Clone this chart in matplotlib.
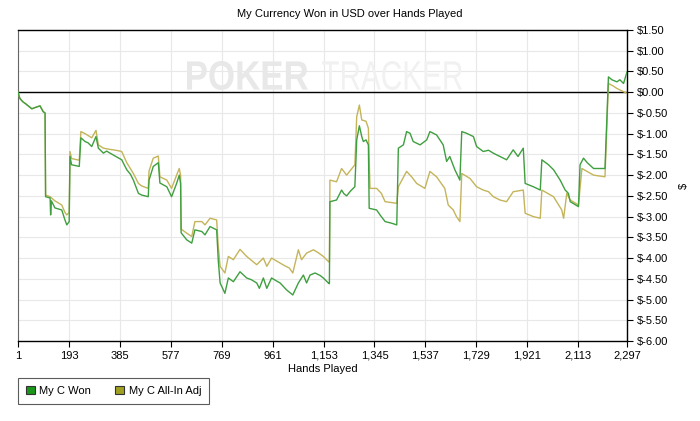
import matplotlib
matplotlib.use("Agg")
import matplotlib.pyplot as plt
from matplotlib.patches import Patch, PathPatch
from matplotlib.textpath import TextPath
from matplotlib.font_manager import FontProperties
from matplotlib.transforms import Affine2D, IdentityTransform
from matplotlib.ticker import FuncFormatter

plt.rcParams["font.family"] = ["Liberation Sans", "DejaVu Sans"]

# --- data ---
won_hands = [1, 8, 19, 30, 53, 70, 84, 96, 103, 105, 122, 124, 127, 140, 166, 178, 185, 194, 197,
             203, 232, 238, 254, 265, 279, 295, 304, 323, 335, 348, 370, 392, 411, 425, 436, 455,
             467, 492, 495, 511, 530, 536, 562, 580, 599, 609, 614, 616, 637, 656, 668, 694, 706,
             725, 750, 756, 763, 781, 794, 813, 838, 863, 880, 901, 911, 926, 939, 957, 975, 989,
             1014, 1037, 1058, 1077, 1089, 1102, 1121, 1140, 1152, 1171, 1175, 1177, 1190, 1202,
             1221, 1230, 1240, 1255, 1271, 1278, 1288, 1297, 1303, 1313, 1322, 1325, 1340, 1353,
             1366, 1385, 1410, 1429, 1435, 1454, 1466, 1479, 1491, 1517, 1542, 1554, 1579, 1604,
             1617, 1629, 1648, 1667, 1674, 1692, 1718, 1730, 1755, 1775, 1793, 1818, 1843, 1868,
             1886, 1906, 1913, 1944, 1970, 1976, 2001, 2020, 2045, 2064, 2076, 2083, 2114, 2120,
             2133, 2147, 2171, 2214, 2227, 2240, 2259, 2270, 2284, 2297]
won_values = [0.00, -0.15, -0.23, -0.28, -0.40, -0.36, -0.33, -0.47, -0.50, -2.52, -2.55, -2.96,
              -2.62, -2.79, -2.84, -3.08, -3.20, -3.12, -1.55, -1.75, -1.79, -1.10, -1.19, -1.22,
              -1.31, -1.07, -1.35, -1.47, -1.42, -1.47, -1.55, -1.63, -1.87, -1.98, -2.12, -2.44,
              -2.48, -2.52, -2.12, -1.79, -1.70, -2.19, -2.28, -2.52, -2.20, -2.00, -2.20, -3.39,
              -3.56, -3.64, -3.32, -3.36, -3.44, -3.24, -3.32, -4.05, -4.60, -4.85, -4.48, -4.57,
              -4.33, -4.48, -4.52, -4.60, -4.73, -4.48, -4.73, -4.48, -4.55, -4.60, -4.77, -4.89,
              -4.60, -4.41, -4.60, -4.41, -4.36, -4.42, -4.48, -4.60, -4.62, -2.64, -2.62, -2.60,
              -2.36, -2.45, -2.50, -2.38, -2.28, -1.15, -0.81, -1.07, -1.19, -1.15, -1.27, -2.80,
              -2.82, -2.84, -2.96, -3.12, -3.16, -3.20, -1.35, -1.27, -0.95, -0.99, -1.19, -1.27,
              -1.15, -0.95, -1.03, -1.27, -1.67, -1.55, -1.87, -2.12, -0.95, -0.99, -1.07, -1.31,
              -1.43, -1.40, -1.47, -1.55, -1.63, -1.39, -1.55, -1.35, -2.20, -2.28, -2.36, -1.63,
              -1.75, -1.87, -2.12, -2.36, -2.44, -2.64, -2.76, -1.75, -1.59, -1.70, -1.84, -1.84,
              0.37, 0.30, 0.25, 0.30, 0.21, 0.49]

adj_hands = [1, 8, 19, 30, 53, 70, 84, 96, 103, 105, 122, 140, 166, 178, 185, 194, 197, 203, 232,
             238, 254, 279, 295, 304, 323, 348, 370, 392, 411, 436, 455, 467, 492, 495, 511, 530,
             536, 562, 580, 599, 609, 614, 616, 637, 656, 668, 694, 706, 725, 750, 756, 763, 781,
             794, 813, 838, 863, 880, 901, 926, 939, 957, 989, 1005, 1024, 1037, 1058, 1070, 1089,
             1115, 1135, 1152, 1171, 1175, 1177, 1202, 1221, 1240, 1271, 1278, 1288, 1297, 1313,
             1322, 1328, 1353, 1371, 1385, 1429, 1435, 1466, 1485, 1504, 1535, 1554, 1579, 1610,
             1623, 1642, 1654, 1667, 1674, 1705, 1730, 1755, 1775, 1793, 1818, 1843, 1868, 1906,
             1913, 1944, 1970, 1976, 2020, 2051, 2058, 2070, 2083, 2114, 2127, 2171, 2214, 2227,
             2245, 2259, 2272, 2297]
adj_values = [0.00, -0.15, -0.23, -0.28, -0.40, -0.36, -0.33, -0.47, -0.50, -2.48, -2.52, -2.62,
              -2.72, -2.90, -2.96, -2.90, -1.43, -1.60, -1.64, -0.95, -1.00, -1.10, -0.92, -1.27,
              -1.35, -1.38, -1.40, -1.43, -1.70, -1.96, -2.20, -2.26, -2.32, -1.90, -1.59, -1.54,
              -2.04, -2.12, -2.32, -2.00, -1.84, -2.00, -3.30, -3.40, -3.48, -3.12, -3.12, -3.20,
              -3.04, -3.08, -3.72, -4.20, -4.36, -3.96, -4.04, -3.79, -3.96, -4.05, -4.16, -4.00,
              -4.20, -4.00, -4.12, -4.18, -4.24, -4.36, -3.80, -4.04, -3.88, -3.80, -3.88, -3.96,
              -4.08, -4.10, -2.12, -2.16, -1.84, -2.00, -1.75, -0.59, -0.31, -0.67, -0.70, -0.87,
              -2.32, -2.32, -2.44, -2.64, -2.68, -2.28, -1.91, -2.04, -2.20, -2.32, -1.91, -2.04,
              -2.32, -2.72, -2.84, -3.00, -3.12, -1.96, -2.08, -2.28, -2.36, -2.40, -2.52, -2.60,
              -2.64, -2.40, -2.36, -2.92, -3.00, -3.04, -2.36, -2.52, -2.84, -3.04, -2.44, -2.60,
              -2.72, -1.84, -2.00, -2.04, 0.21, 0.15, 0.09, 0.05, -0.03]

x_ticks = [1, 193, 385, 577, 769, 961, 1153, 1345, 1537, 1729, 1921, 2113, 2297]
y_ticks = [1.5, 1.0, 0.5, 0.0, -0.5, -1.0, -1.5, -2.0, -2.5, -3.0, -3.5, -4.0, -4.5, -5.0, -5.5, -6.0]

won_color = "#3f9f3f"
adj_color = "#c4b45a"

W, H = 700, 421
fig = plt.figure(figsize=(W / 100, H / 100), dpi=100)
ax = fig.add_axes([18 / W, 1 - 341 / H, 609 / W, 311 / H])


def watermark(text, bold, box, color):
    # stretch a text outline into a pixel box (left, top, right, bottom)
    prop = FontProperties(family="Liberation Sans", weight="bold" if bold else "normal")
    path = TextPath((0, 0), text, size=30, prop=prop)
    ext = path.get_extents()
    left, top, right, bottom = box
    sx = (right - left) / ext.width
    sy = (bottom - top) / ext.height
    tr = Affine2D().translate(-ext.x0, -ext.y0).scale(sx, sy).translate(left, H - bottom)
    fig.patches.append(PathPatch(path, transform=tr + IdentityTransform(), facecolor=color,
                                 edgecolor="none", zorder=0.5))


watermark("POKER", True, (187, 61, 308, 90), "#e8e8e8")
watermark("TRACKER", False, (322, 61, 462, 90), "#f1f1f1")
ax.patch.set_alpha(0)

ax.plot(adj_hands, adj_values, color=adj_color, lw=1.0, zorder=3)
ax.plot(won_hands, won_values, color=won_color, lw=1.0, zorder=4)
ax.axhline(0, color="black", lw=1.0, zorder=2)

ax.set_xlim(1, 2297)
ax.set_ylim(-6.0, 1.5)
ax.set_xticks(x_ticks)
ax.xaxis.set_major_formatter(FuncFormatter(lambda v, p: f"{int(v):,}"))
ax.set_yticks(y_ticks)
ax.yaxis.set_major_formatter(FuncFormatter(lambda v, p: f"${v:.2f}"))
ax.yaxis.tick_right()
ax.yaxis.set_label_position("right")
ax.tick_params(axis="both", direction="out", length=4, width=0.8, labelsize=8, colors="black")
ax.tick_params(axis="y", pad=3)
ax.tick_params(axis="x", pad=3)
ax.grid(True, color="#e8e8e8", lw=0.8, zorder=0)
ax.set_axisbelow(True)

for side in ["top", "bottom", "right"]:
    ax.spines[side].set_color("black")
    ax.spines[side].set_linewidth(1.0)
ax.spines["left"].set_color("#666666")
ax.spines["left"].set_linewidth(0.8)

ax.set_xlabel("Hands Played", fontsize=8, labelpad=2)
ax.set_ylabel("$", fontsize=8, labelpad=8)

fig.text(0.5, 1 - 14 / H, "My Currency Won in USD over Hands Played", ha="center", va="center",
         fontsize=8)

handles = [Patch(facecolor="#1a961a", edgecolor="#333333", lw=0.8, label="My C Won"),
           Patch(facecolor="#a0a020", edgecolor="#333333", lw=0.8, label="My C All-In Adj")]
leg = fig.legend(handles=handles, loc="upper left", bbox_to_anchor=(18 / W, 1 - 378 / H),
                 ncol=2, fontsize=8, frameon=True, fancybox=False, handlelength=0.8,
                 handleheight=0.8, handletextpad=0.4, columnspacing=2.2, borderpad=0.7,
                 borderaxespad=0)
leg.get_frame().set_edgecolor("#333333")
leg.get_frame().set_linewidth(0.8)

fig.savefig("out.png", dpi=100)
